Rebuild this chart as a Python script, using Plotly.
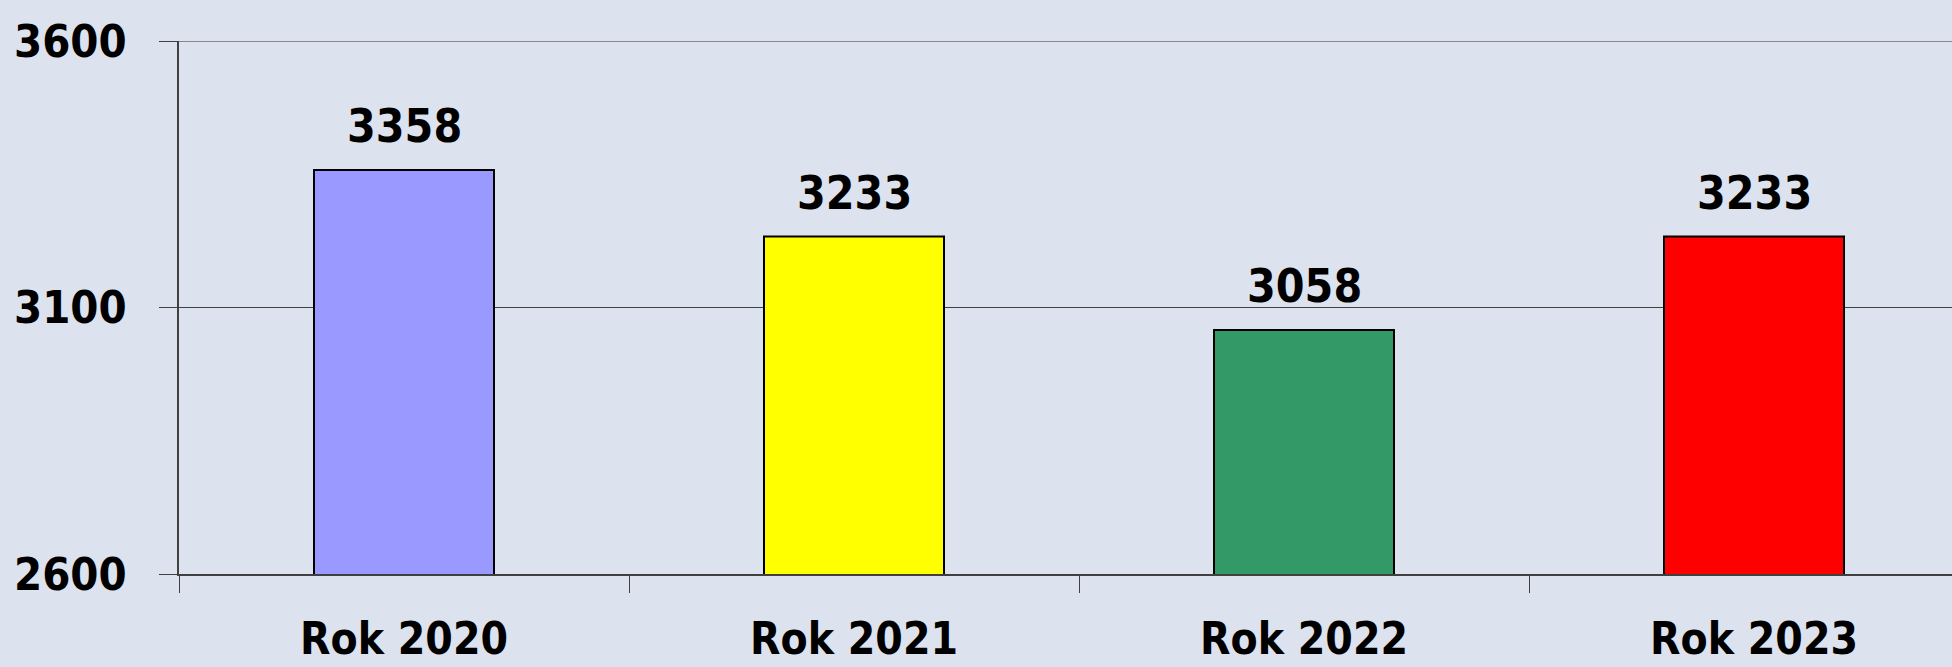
import plotly.graph_objects as go

categories = ["Rok 2020", "Rok 2021", "Rok 2022", "Rok 2023"]
values = [3358, 3233, 3058, 3233]
colors = ["#9999FF", "#FFFF00", "#339966", "#FF0000"]
y_ticks = [2600, 3100, 3600]

FONT = "'DejaVu Sans Condensed', 'Liberation Sans', sans-serif"
BG = "#DDE3EE"

fig = go.Figure()
fig.add_trace(go.Bar(
    x=categories, y=values, width=0.4,
    marker=dict(color=colors, line=dict(color="#000000", width=2)),
    hoverinfo="skip",
))

for c, v in zip(categories, values):
    fig.add_annotation(x=c, y=v, text="<b>%d</b>" % v, showarrow=False,
                       yanchor="bottom", yshift=15,
                       font=dict(family=FONT, size=46, color="#000000"))

# y tick labels placed as annotations for precise positioning
for t in y_ticks:
    fig.add_annotation(xref="paper", x=0, y=t, text="<b>%d</b>" % t, showarrow=False,
                       xanchor="right", yanchor="middle", xshift=-50,
                       font=dict(family=FONT, size=45, color="#000000"))

fig.add_shape(type="line", xref="paper", yref="y", x0=0, x1=1, y0=3600, y1=3600,
              line=dict(color="#888888", width=2))

fig.update_layout(
    width=1952, height=667,
    margin=dict(l=179, r=0, t=41, b=93, autoexpand=False),
    paper_bgcolor=BG, plot_bgcolor=BG,
    showlegend=False,
    bargap=0.6,
    xaxis=dict(
        type="category", range=[-0.5, 3.44], automargin=False,
        tickson="boundaries", ticks="outside", ticklen=17, tickcolor="#404040", tickwidth=1,
        showline=True, linecolor="#404040", linewidth=2,
        showgrid=False,
        tickfont=dict(family=FONT, size=44, color="#000000"),
        ticklabelstandoff=25,
        tickvals=categories, ticktext=["<b>%s</b>" % c for c in categories],
    ),
    yaxis=dict(
        range=[2600, 3600], tickvals=y_ticks, showticklabels=False,
        automargin=False,
        ticks="outside", ticklen=18, tickcolor="#404040", tickwidth=1,
        showline=True, linecolor="#404040", linewidth=2,
        showgrid=True, gridcolor="#404040", gridwidth=1,
        zeroline=False,
    ),
)

fig.write_html(
    "out.html",
    config={"displayModeBar": False},
    post_script="document.body.style.margin='0';document.body.style.overflow='hidden';"
                "document.body.style.background='%s';" % BG,
)
